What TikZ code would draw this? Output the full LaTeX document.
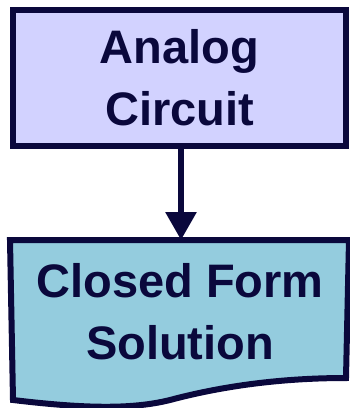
\documentclass[tikz,border=0pt]{standalone}
\usepackage{fontspec}
\setmainfont{Liberation Sans}
\usetikzlibrary{arrows.meta}
\definecolor{inkblue}{RGB}{10,8,60}
\definecolor{lavender}{RGB}{210,210,255}
\definecolor{paleteal}{RGB}{148,204,222}
\tikzset{
  boxline/.style={line width=6pt, draw=inkblue, line join=miter},
  lbl/.style={text=inkblue, align=center, font=\bfseries\fontsize{47}{62}\selectfont, inner sep=0pt},
  flow/.style={line width=6pt, draw=inkblue, -{Triangle[width=30pt,length=28pt]}},
}
\begin{document}
\begin{tikzpicture}[x=1pt, y=-1pt]
  \useasboundingbox (0,0) rectangle (349,408);
  % process box
  \node[boxline, fill=lavender, minimum width=333pt, minimum height=136pt, inner sep=0pt]
    (ana) at (179.5,78) {};
  \node[lbl] (anatext) at (179.5,78) {Analog\\Circuit};
  % document box (anchors only, outline drawn below)
  \node[line width=6pt, minimum width=333pt, minimum height=137pt, inner sep=0pt]
    (doc) at (179.5,311.5) {};
  \filldraw[boxline, fill=paleteal]
    (doc.north west) -- (doc.north east) -- (346,378)
    .. controls (290,378) and (230,384) .. (170,400)
    .. controls (130,410) and (80,408) .. (13,400) -- cycle;
  \node[lbl] (sol) at (180,312) {Closed Form\\Solution};
  % connector
  \draw[flow] ([xshift=1.5pt]ana.south) -- ([xshift=1.5pt]doc.north);
\end{tikzpicture}
\end{document}
